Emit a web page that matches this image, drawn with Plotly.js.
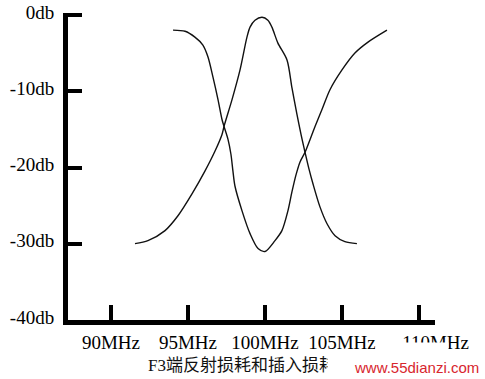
<!DOCTYPE html>
<html>
<head>
<meta charset="utf-8">
<script src="https://cdn.plot.ly/plotly-3.0.1.min.js"></script>
<style>html,body{margin:0;padding:0;background:#fff;}#chart{width:485px;height:379px;}</style>
</head>
<body>
<div id="chart"></div>
<script>
// Insertion loss curve (peak near 100 MHz)
const insFreq = [91.56, 92.40, 93.51, 94.35, 95.26, 96.10, 96.75, 97.21, 97.34, 97.86, 98.38, 98.83, 99.03, 99.35, 99.81, 100.19, 100.45, 100.84, 101.43, 101.75, 102.08, 102.34, 102.60, 102.86, 103.12, 103.57, 104.03, 104.55, 105.19, 105.97];
const insDb   = [-29.97, -29.58, -28.27, -26.32, -23.45, -20.46, -17.85, -15.64, -14.59, -11.07, -7.17, -2.87, -1.56, -0.65, -0.26, -0.65, -1.56, -3.65, -5.86, -9.51, -13.03, -15.64, -17.98, -20.20, -22.15, -25.15, -27.36, -28.93, -29.71, -29.97];
// Reflection loss curve (dip near 100 MHz)
const refFreq = [94.03, 94.81, 95.45, 95.97, 96.30, 96.62, 96.95, 97.21, 97.34, 97.60, 97.79, 97.92, 98.05, 98.51, 99.03, 99.55, 100.00, 100.65, 101.10, 101.49, 101.75, 102.01, 102.27, 102.60, 103.05, 103.25, 103.70, 104.22, 105.00, 105.84, 106.69, 107.92];
const refDb   = [-1.95, -2.10, -2.87, -3.91, -5.47, -8.08, -11.07, -13.68, -14.59, -16.29, -18.24, -20.46, -22.41, -25.67, -28.66, -30.62, -31.01, -29.58, -28.27, -25.67, -23.19, -20.98, -19.28, -17.98, -15.64, -14.59, -12.38, -9.77, -7.17, -4.95, -3.52, -1.95];
// Tick labels
const xTickVals = [90, 95, 100, 105, 110];
const xTickText = ['90MHz', '95MHz', '100MHz', '105MHz', '&nbsp;&nbsp;&nbsp;&nbsp;&nbsp;&nbsp;&nbsp;110MHz'];
const yTickVals = [0, -10, -20, -30, -40];
const yTickText = ['0db', '-10db', '-20db', '-30db', '-40db'];
const chartTitle = 'F3端反射损耗和插入损耗';
const watermark = 'www.55dianzi.com';

const serif = 'Liberation Serif, Times New Roman, serif';
const lineStyle = {color: '#111', width: 1.4, shape: 'spline', smoothing: 0.8};

const traces = [
  {x: insFreq, y: insDb, mode: 'lines', line: lineStyle, hoverinfo: 'skip'},
  {x: refFreq, y: refDb, mode: 'lines', line: lineStyle, hoverinfo: 'skip'}
];

const layout = {
  width: 485, height: 379,
  margin: {l: 68, r: 50, t: 12.7, b: 59},
  paper_bgcolor: '#fff', plot_bgcolor: '#fff',
  showlegend: false,
  xaxis: {
    range: [87.21, 111.04],
    showgrid: false, zeroline: false,
    showline: true, linecolor: '#000', linewidth: 5,
    ticks: 'inside', ticklen: 15, tickwidth: 4, tickcolor: '#000',
    tickvals: xTickVals, ticktext: xTickText,
    tickangle: 0, automargin: false,
    tickfont: {family: serif, size: 19, color: '#000'},
    ticklabelstandoff: 1
  },
  yaxis: {
    range: [-40, 0.3],
    showgrid: false, zeroline: false,
    showline: true, linecolor: '#000', linewidth: 5,
    ticks: 'inside', ticklen: 14, tickwidth: 4, tickcolor: '#000',
    tickvals: yTickVals, ticktext: yTickText,
    automargin: false,
    tickfont: {family: serif, size: 19, color: '#000'},
    ticklabelshift: -3,
    ticklabelstandoff: 5
  },
  annotations: [
    {text: chartTitle, xref: 'paper', yref: 'paper', x: 0.213, y: -0.1497,
     xanchor: 'left', yanchor: 'middle', showarrow: false,
     font: {family: 'Liberation Serif, Noto Sans CJK SC, serif', size: 17, color: '#111'}},
    {text: ' ', xref: 'paper', yref: 'paper', x: 0.9223, y: -0.153,
     xanchor: 'center', yanchor: 'middle', showarrow: false, width: 157, height: 24,
     bgcolor: '#fff', borderpad: 0, font: {size: 10}},
    {text: ' ', xref: 'paper', yref: 'paper', x: 0.937, y: -0.0944,
     xanchor: 'center', yanchor: 'middle', showarrow: false, width: 72, height: 12,
     bgcolor: '#fff', borderpad: 0, font: {size: 10}},
    {text: watermark, xref: 'paper', yref: 'paper', x: 0.774, y: -0.155,
     xanchor: 'left', yanchor: 'middle', showarrow: false,
     font: {family: 'Liberation Sans, Arial, sans-serif', size: 15, color: '#d8262e'}}
  ]
};

Plotly.newPlot('chart', traces, layout, {staticPlot: true, displayModeBar: false});
</script>
</body>
</html>
